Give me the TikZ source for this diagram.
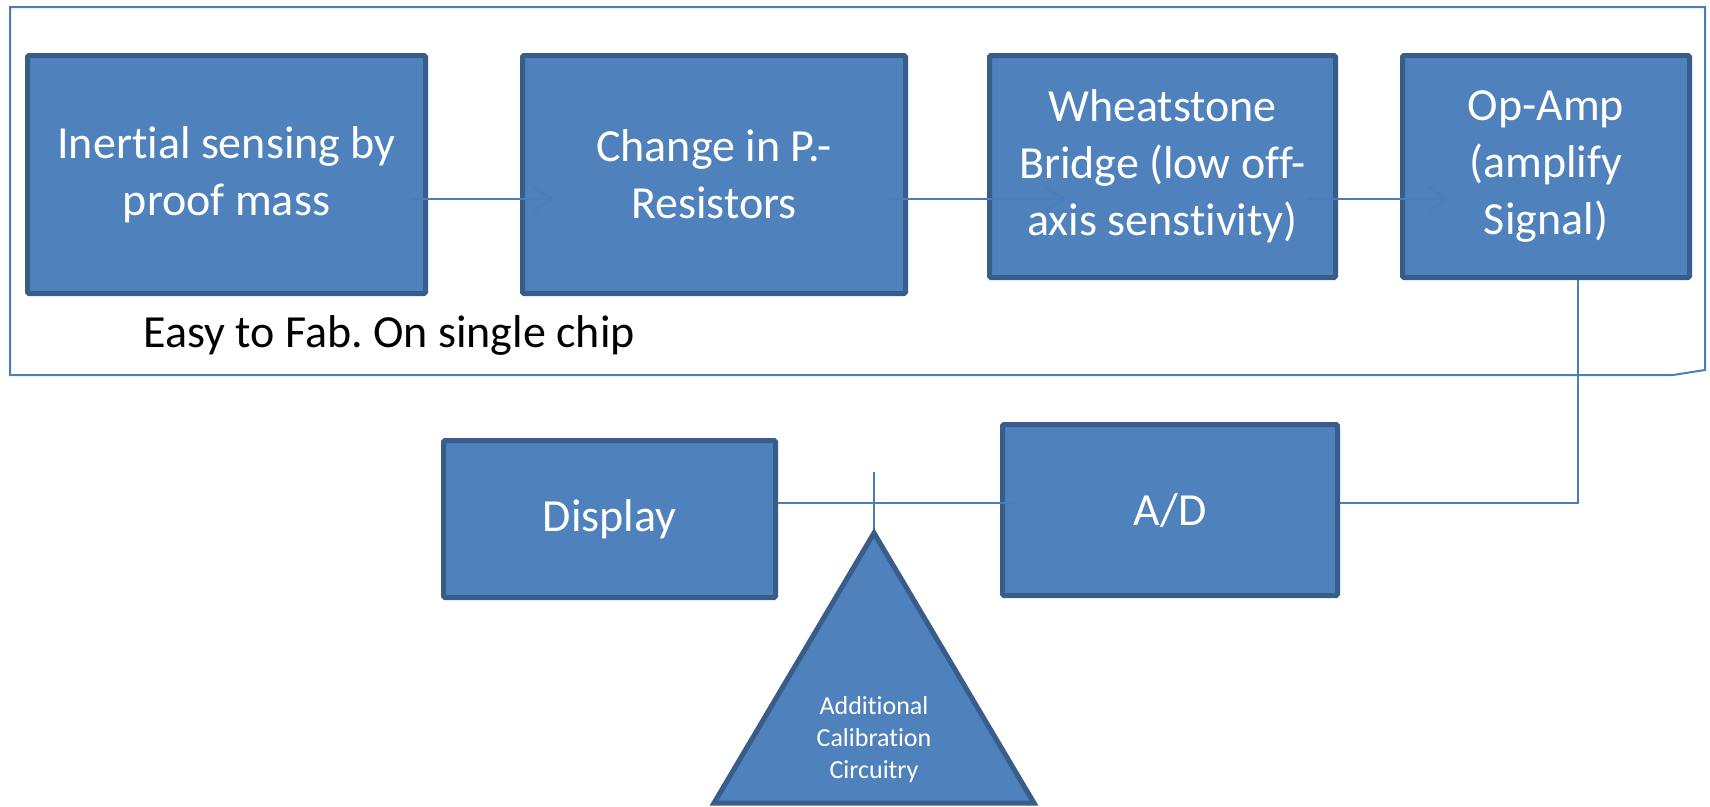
\documentclass[tikz,border=0pt]{standalone}
\usepackage{fontspec}
\setmainfont[RawFeature={-liga;-clig;-calt;-dlig}]{Carlito}
\usepackage{xcolor}
\usetikzlibrary{arrows.meta}
\frenchspacing
\definecolor{blockfill}{HTML}{4F81BD}
\definecolor{blockline}{HTML}{385D8A}
\definecolor{wirecol}{HTML}{4A7EBB}
\tikzset{
	block/.style={draw=blockline, fill=blockfill, line width=5pt, text=white,
			align=center, inner sep=0pt, rounded corners=1.5pt,
			font=\fontsize{46}{57}\selectfont},
	wire/.style={draw=wirecol, line width=2pt},
	flow/.style={wire, -{Straight Barb[length=18pt,width=24pt,line width=1.6pt]}},
	frame/.style={draw=wirecol, line width=2pt, line join=miter}
}
\begin{document}
\begin{tikzpicture}[x=1pt, y=-1pt]
		\useasboundingbox (0,0) rectangle (1710,806);
		% chip outline
		\draw[frame] (10,7) -- (1705,7) -- (1705,370) -- (1673,375) -- (10,375) -- cycle;
		\node[anchor=base west, font=\fontsize{46}{55}\selectfont] (easy) at (140,347) {Easy to Fab. On single chip};
		% top row
		\node[block, minimum width=398, minimum height=238] (inertial) at (226.5,174.5) {Inertial sensing by\\proof mass};
		\node[block, minimum width=383, minimum height=238] (change) at (714,174.5) {Change in P.-\\Resistors};
		\node[block, minimum width=346, minimum height=222] (wheat) at (1162.5,166.5) {Wheatstone\\Bridge (low off-\\axis senstivity)};
		\node[block, minimum width=287, minimum height=222] (opamp) at (1546,166.5) {Op-Amp\\(amplify\\Signal)};
		% bottom row
		\node[block, minimum width=332, minimum height=157] (display) at (609.5,519) {Display};
		\node[block, minimum width=335, minimum height=171] (adconv) at (1170,510) {A/D};
		\coordinate (flowy) at (0,199);
		\coordinate (wirey) at (0,503);
		\coordinate (downx) at (1578,0);
		\coordinate (apex) at (874,533);
		\draw[flow] ([xshift=-18pt]inertial.east |- flowy) -- ([xshift=33pt]change.west |- flowy);
		\draw[flow] ([xshift=-20pt]change.east |- flowy) -- ([xshift=78pt]wheat.west |- flowy);
		\draw[flow] ([xshift=-31pt]wheat.east |- flowy) -- ([xshift=48pt]opamp.west |- flowy);
		\draw[wire] (opamp.south -| downx) |- (adconv.east |- wirey);
		\draw[wire] (display.east |- wirey) -- ([xshift=17pt]adconv.west |- wirey);
		\draw[wire] (apex) -- ++(0,-61);
		% calibration block
		\draw[draw=blockline, fill=blockfill, line width=5pt, line join=miter] (apex) -- (714,803) -- (1034,803) -- cycle;
		\node[text=white, align=center, font=\fontsize{26}{32}\selectfont] (calib) at (874,740) {Additional\\Calibration\\Circuitry};
	\end{tikzpicture}
\end{document}
